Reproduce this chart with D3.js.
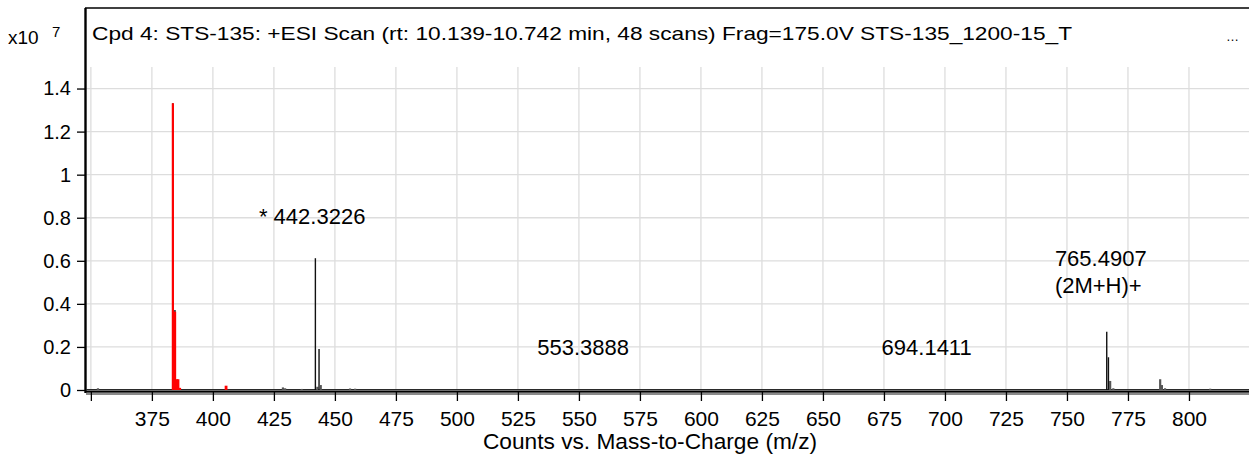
<!DOCTYPE html>
<html><head><meta charset="utf-8">
<script src="https://cdn.jsdelivr.net/npm/d3@7"></script>
<style>
html,body{margin:0;padding:0;background:#fff;overflow:hidden}
svg{display:block}
text{font-family:"Liberation Sans",Arial,sans-serif;fill:#000}
</style></head><body>
<svg id="chart" width="1249" height="455"></svg>
<script>
const titleText = "Cpd 4: STS-135: +ESI Scan (rt: 10.139-10.742 min, 48 scans) Frag=175.0V STS-135_1200-15_T";
const xTitle = "Counts vs. Mass-to-Charge (m/z)";
const yExponentBase = "x10";
const yExponent = "7";
const xTicks = [350,375,400,425,450,475,500,525,550,575,600,625,650,675,700,725,750,775,800];
const xTickLabels = ["","375","400","425","450","475","500","525","550","575","600","625","650","675","700","725","750","775","800"];
const yTicks = [0,0.2,0.4,0.6,0.8,1.0,1.2,1.4];
const yTickLabels = ["0","0.2","0.4","0.6","0.8","1","1.2","1.4"];

// spectrum sticks (x10^7 counts)
const blackMz  = [352.9, 383.6, 384.45, 405.4, 428.7, 429.6, 436.4, 442.0, 442.8, 443.5, 444.2, 456.2, 458.3, 766.3, 767.0, 767.7, 769.0, 788.2, 788.9, 790.2, 808.7];
const blackInt = [0.008, 1.332, 0.372, 0.006, 0.012, 0.008, 0.005, 0.612, 0.015, 0.190, 0.023, 0.007, 0.006, 0.271, 0.152, 0.042, 0.008, 0.050, 0.023, 0.008, 0.006];
const redMz  = [383.6, 384.5, 385.1, 385.7, 386.4, 405.4];
const redInt = [1.332, 0.364, 0.050, 0.050, 0.010, 0.020];

const annotMz = [442.3226, 553.3888, 694.1411, 765.4907];
const annotLevel = [0.771, 0.163, 0.163, 0.576];
const annotLines = [["* 442.3226"], ["553.3888"], ["694.1411"], ["765.4907", "(2M+H)+"]];

const svg = d3.select("#chart");
const x = d3.scaleLinear().domain([348, 824.6]).range([86, 1249]);
const y = d3.scaleLinear().domain([0, 1.5]).range([390, 67]);

// grid
const grid = svg.append("g");
grid.selectAll("line.v").data(xTicks).join("line")
  .attr("x1", d => x(d)).attr("x2", d => x(d))
  .attr("y1", y(1.5)).attr("y2", y(0))
  .attr("stroke", "#dddddd").attr("stroke-width", 1.3);
grid.selectAll("line.h").data(yTicks.filter(d => d > 0)).join("line")
  .attr("x1", 86).attr("x2", 1249)
  .attr("y1", d => y(d)).attr("y2", d => y(d))
  .attr("stroke", "#dddddd").attr("stroke-width", 1.3);

// frame
svg.append("line").attr("x1", 85).attr("x2", 1249).attr("y1", 8).attr("y2", 8)
  .attr("stroke", "#000").attr("stroke-width", 1.6);
svg.append("line").attr("x1", 85.5).attr("x2", 85.5).attr("y1", 8).attr("y2", 393)
  .attr("stroke", "#000").attr("stroke-width", 2.4);

// title
svg.append("text").attr("x", 92).attr("y", 40)
  .attr("font-size", 18.5).attr("textLength", 980).attr("lengthAdjust", "spacingAndGlyphs")
  .text(titleText);
svg.append("text").attr("x", 1226).attr("y", 41).attr("font-size", 13).text("…");

// y exponent
svg.append("text").attr("x", 8).attr("y", 44).attr("font-size", 19).text(yExponentBase);
svg.append("text").attr("x", 52).attr("y", 37).attr("font-size", 15).text(yExponent);

// y axis
const yAxis = svg.append("g").attr("transform", "translate(86,0)")
  .call(d3.axisLeft(y).tickValues(yTicks).tickSize(9).tickSizeOuter(0).tickPadding(6)
    .tickFormat((d, i) => yTickLabels[i]));
yAxis.select(".domain").remove();
yAxis.selectAll(".tick line").attr("stroke", "#000").attr("stroke-width", 1.3);
yAxis.selectAll(".tick text").attr("font-size", 20).attr("font-family", "Liberation Sans, Arial, sans-serif").attr("fill", "#000");

// spectrum baseline
svg.append("line").attr("x1", 86).attr("x2", 1249).attr("y1", y(0) - 0.3).attr("y2", y(0) - 0.3)
  .attr("stroke", "#2a2a2a").attr("stroke-width", 1.4);

// black spectrum
svg.append("g").selectAll("line").data(blackMz.map((m, i) => [m, blackInt[i]])).join("line")
  .attr("x1", d => x(d[0])).attr("x2", d => x(d[0]))
  .attr("y1", y(0)).attr("y2", d => y(d[1]))
  .attr("stroke", d => d[1] < 0.06 ? "#555" : "#111")
  .attr("stroke-width", d => d[1] < 0.06 ? 2.2 : 1.4);

// red spectrum
svg.append("g").selectAll("line").data(redMz.map((m, i) => [m, redInt[i]])).join("line")
  .attr("x1", d => x(d[0])).attr("x2", d => x(d[0]))
  .attr("y1", y(0)).attr("y2", d => y(d[1]))
  .attr("stroke", "#ff0000")
  .attr("stroke-width", d => d[1] < 0.06 ? 2.8 : 2.2);

// x axis
svg.append("line").attr("x1", 86).attr("x2", 1249).attr("y1", 391.7).attr("y2", 391.7)
  .attr("stroke", "#000").attr("stroke-width", 2);
svg.append("line").attr("x1", 86).attr("x2", 1249).attr("y1", 393.9).attr("y2", 393.9)
  .attr("stroke", "#8a8a8a").attr("stroke-width", 2.3);
const xAxis = svg.append("g").attr("transform", "translate(0,392)")
  .call(d3.axisBottom(x).tickValues(xTicks).tickSize(9).tickSizeOuter(0).tickPadding(10)
    .tickFormat((d, i) => xTickLabels[i]));
xAxis.select(".domain").remove();
xAxis.selectAll(".tick line").attr("stroke", "#000").attr("stroke-width", 1.3);
xAxis.selectAll(".tick text").attr("font-size", 21).attr("font-family", "Liberation Sans, Arial, sans-serif").attr("fill", "#000");

svg.append("text").attr("x", 650).attr("y", 449).attr("text-anchor", "middle")
  .attr("font-size", 22.7).text(xTitle);

// annotations
annotMz.forEach((m, i) => {
  const lines = annotLines[i];
  const t = svg.append("text").attr("x", x(m) - 4).attr("y", y(annotLevel[i]))
    .attr("text-anchor", "middle").attr("font-size", 22).text(lines[0]);
  const bb = t.node().getBBox();
  lines.slice(1).forEach((l, k) => {
    svg.append("text").attr("x", bb.x).attr("y", y(annotLevel[i]) + 27 * (k + 1))
      .attr("font-size", 22).text(l);
  });
});
</script>
</body></html>
